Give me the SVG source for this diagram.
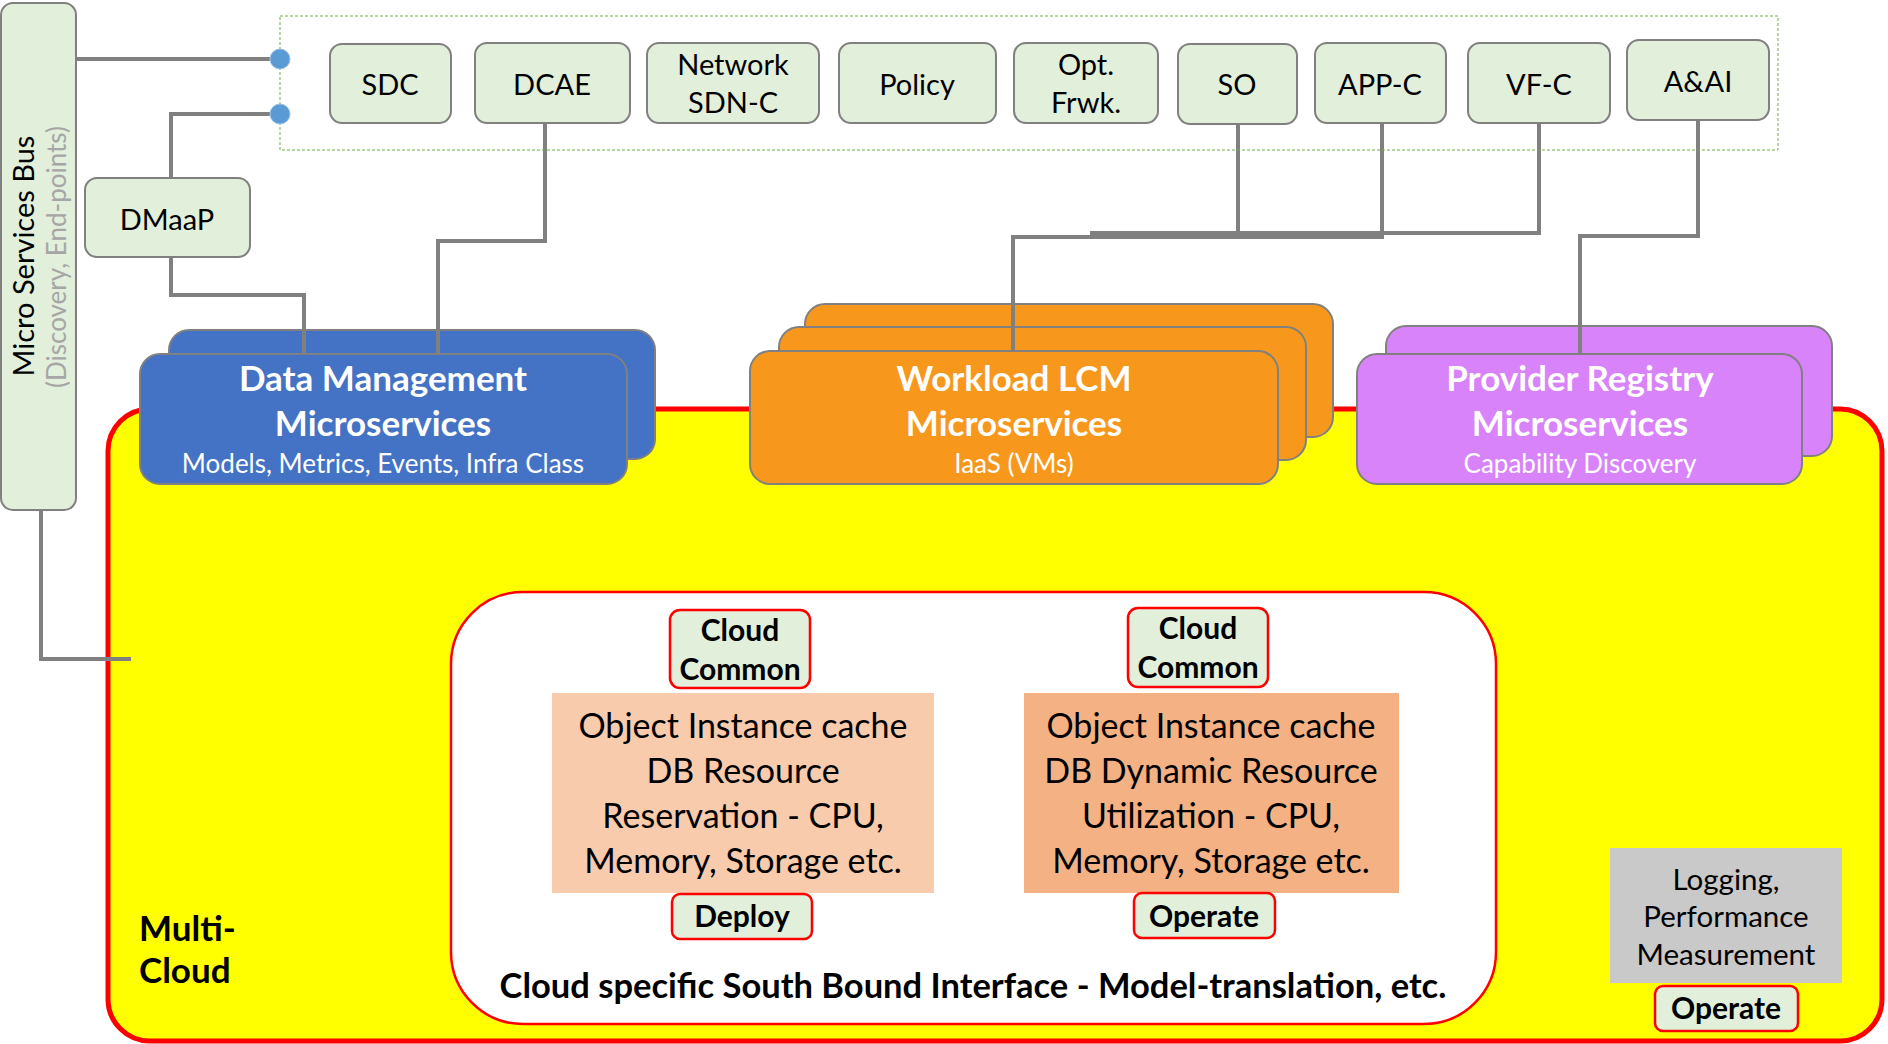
<svg xmlns="http://www.w3.org/2000/svg" width="1888" height="1044" viewBox="0 0 1888 1044">
<style>
text{font-family:Lato,"Open Sans","Liberation Sans",sans-serif;}
.node{fill:#E2EFDA;stroke:#808080;stroke-width:2;}
.lbl{font-size:29px;fill:#000;text-anchor:middle;}
.conn{fill:none;stroke:#808080;stroke-width:4;}
.title{font-size:35px;font-weight:bold;fill:#fff;text-anchor:middle;}
.sub{font-size:26px;fill:#fff;text-anchor:middle;}
.tag{fill:#E2EFDA;stroke:#FF0000;stroke-width:2.5;}
.tagt{font-size:30px;font-weight:bold;fill:#000;text-anchor:middle;}
.obj{font-size:34px;fill:#000;text-anchor:middle;}
</style>
<rect width="1888" height="1044" fill="#fff"/>

<g id="multicloud">
<rect x="108" y="409" width="1774" height="632" rx="42" fill="#FFFF00" stroke="#FF0000" stroke-width="5"/>
<text x="139" y="941" font-size="35" font-weight="bold" fill="#000">Multi-</text>
<text x="139" y="983" font-size="35" font-weight="bold" fill="#000">Cloud</text>
</g>

<g id="southbound">
<rect x="451" y="592" width="1045" height="432" rx="72" fill="#fff" stroke="#FF0000" stroke-width="2.5"/>
<text x="973" y="998" font-size="34.5" font-weight="bold" fill="#000" text-anchor="middle">Cloud specific South Bound Interface - Model-translation, etc.</text>
</g>

<g id="objcache1">
<rect x="552" y="693" width="382" height="200" fill="#F8CBAD"/>
<text class="obj" x="743" y="738">Object Instance cache</text>
<text class="obj" x="743" y="783">DB Resource</text>
<text class="obj" x="743" y="828">Reservation - CPU,</text>
<text class="obj" x="743" y="873">Memory, Storage etc.</text>
</g>
<g id="objcache2">
<rect x="1024" y="693" width="375" height="200" fill="#F4B183"/>
<text class="obj" x="1211" y="738">Object Instance cache</text>
<text class="obj" x="1211" y="783">DB Dynamic Resource</text>
<text class="obj" x="1211" y="828">Utilization - CPU,</text>
<text class="obj" x="1211" y="873">Memory, Storage etc.</text>
</g>
<g id="cloudcommon1">
<rect class="tag" x="670" y="610" width="140" height="78" rx="10"/>
<text class="tagt" x="740" y="641">Cloud</text>
<text class="tagt" x="740" y="680">Common</text>
</g>
<g id="cloudcommon2">
<rect class="tag" x="1128" y="608" width="140" height="79" rx="10"/>
<text class="tagt" x="1198" y="639">Cloud</text>
<text class="tagt" x="1198" y="678">Common</text>
</g>
<g id="deploy">
<rect class="tag" x="672" y="894" width="140" height="45" rx="8"/>
<text class="tagt" x="742" y="927">Deploy</text>
</g>
<g id="operate1">
<rect class="tag" x="1134" y="893" width="141" height="45" rx="8"/>
<text class="tagt" x="1204" y="927">Operate</text>
</g>
<g id="logging">
<rect x="1610" y="848" width="232" height="135" fill="#C9C9C9"/>
<text x="1726" y="890" font-size="29.5" fill="#000" text-anchor="middle">Logging,</text>
<text x="1726" y="927" font-size="29.5" fill="#000" text-anchor="middle">Performance</text>
<text x="1726" y="965" font-size="29.5" fill="#000" text-anchor="middle">Measurement</text>
</g>
<g id="operate2">
<rect class="tag" x="1655" y="986" width="143" height="45" rx="8"/>
<text class="tagt" x="1726" y="1019">Operate</text>
</g>

<g id="connectors">
<polyline class="conn" points="76,59 270,59"/>
<polyline class="conn" points="270,114 171,114 171,178"/>
<polyline class="conn" points="41,510 41,659 131,659"/>
<polyline class="conn" points="171,257 171,295 304,295 304,356"/>
<polyline class="conn" points="545,123 545,241 438,241 438,356"/>
<polyline class="conn" points="1238,124 1238,237"/>
<polyline class="conn" points="1382,123 1382,237 1013,237 1013,353"/>
<polyline class="conn" points="1539,123 1539,233 1090,233"/>
<polyline class="conn" points="1698,120 1698,236 1580,236 1580,356"/>
</g>

<g id="datamgmt">
<rect x="169" y="330" width="486" height="129" rx="20" fill="#4472C4" stroke="#808080" stroke-width="2"/>
<rect x="140" y="354" width="487" height="130" rx="20" fill="#4472C4" stroke="#808080" stroke-width="2"/>
<polyline class="conn" points="304,330 304,354"/>
<polyline class="conn" points="438,330 438,354"/>
<text class="title" x="383" y="391">Data Management</text>
<text class="title" x="383" y="436">Microservices</text>
<text class="sub" x="383" y="473">Models, Metrics, Events, Infra Class</text>
</g>

<g id="workload">
<rect x="805" y="304" width="528" height="133" rx="20" fill="#F7981D" stroke="#808080" stroke-width="2"/>
<rect x="779" y="327" width="527" height="133" rx="20" fill="#F7981D" stroke="#808080" stroke-width="2"/>
<polyline class="conn" points="1013,304 1013,351"/>
<rect x="750" y="351" width="528" height="133" rx="20" fill="#F7981D" stroke="#808080" stroke-width="2"/>
<text class="title" x="1014" y="391">Workload LCM</text>
<text class="title" x="1014" y="436">Microservices</text>
<text class="sub" x="1014" y="473">IaaS (VMs)</text>
</g>

<g id="provider">
<rect x="1386" y="326" width="446" height="130" rx="20" fill="#D883FA" stroke="#808080" stroke-width="2"/>
<polyline class="conn" points="1580,326 1580,354"/>
<rect x="1357" y="354" width="445" height="130" rx="20" fill="#D883FA" stroke="#808080" stroke-width="2"/>
<text class="title" x="1580" y="391">Provider Registry</text>
<text class="title" x="1580" y="436">Microservices</text>
<text class="sub" x="1580" y="473">Capability Discovery</text>
</g>

<g id="bus">
<rect x="1" y="3" width="75" height="507" rx="12" fill="#E2EFDA" stroke="#808080" stroke-width="2"/>
<text transform="translate(34,256) rotate(-90)" font-size="29" fill="#000" text-anchor="middle">Micro Services Bus</text>
<text transform="translate(66,257) rotate(-90)" font-size="26" fill="#A6A6A6" text-anchor="middle">(Discovery, End-points)</text>
</g>

<g id="onap">
<rect x="280" y="16" width="1498" height="134" fill="none" stroke="#70AD47" stroke-width="1" stroke-dasharray="3 2"/>
<circle cx="280" cy="59" r="10" fill="#5B9BD5" stroke="#9DC3E6" stroke-width="1"/>
<circle cx="280" cy="114" r="10" fill="#5B9BD5" stroke="#9DC3E6" stroke-width="1"/>
</g>

<g id="sdc"><rect class="node" x="330" y="44" width="121" height="79" rx="12"/><text class="lbl" x="390" y="95">SDC</text></g>
<g id="dcae"><rect class="node" x="475" y="43" width="155" height="80" rx="12"/><text class="lbl" x="552" y="95">DCAE</text></g>
<g id="sdnc"><rect class="node" x="647" y="43" width="172" height="80" rx="12"/><text class="lbl" x="733" y="75">Network</text><text class="lbl" x="733" y="113">SDN-C</text></g>
<g id="policy"><rect class="node" x="839" y="43" width="157" height="80" rx="12"/><text class="lbl" x="917" y="95">Policy</text></g>
<g id="optfrwk"><rect class="node" x="1014" y="43" width="144" height="80" rx="12"/><text class="lbl" x="1086" y="75">Opt.</text><text class="lbl" x="1086" y="113">Frwk.</text></g>
<g id="so"><rect class="node" x="1178" y="44" width="119" height="80" rx="12"/><text class="lbl" x="1237" y="95">SO</text></g>
<g id="appc"><rect class="node" x="1315" y="43" width="131" height="80" rx="12"/><text class="lbl" x="1380" y="95">APP-C</text></g>
<g id="vfc"><rect class="node" x="1468" y="43" width="142" height="80" rx="12"/><text class="lbl" x="1539" y="95">VF-C</text></g>
<g id="aai"><rect class="node" x="1627" y="40" width="142" height="80" rx="12"/><text class="lbl" x="1698" y="92">A&amp;AI</text></g>
<g id="dmaap"><rect class="node" x="85" y="178" width="165" height="79" rx="12"/><text class="lbl" x="167" y="230">DMaaP</text></g>
</svg>
